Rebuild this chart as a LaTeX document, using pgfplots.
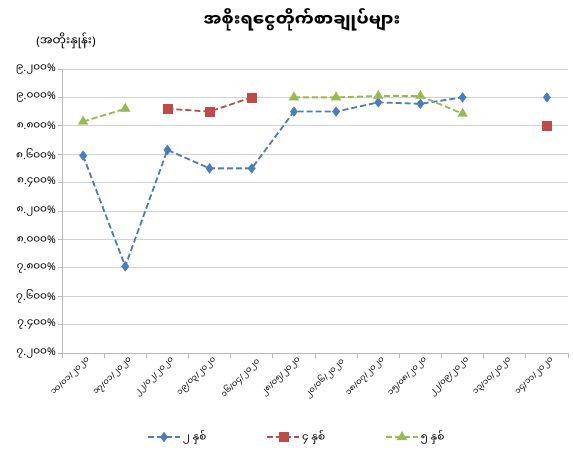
\documentclass[border=0pt]{standalone}
\usepackage{fontspec}
\setmainfont{Noto Sans}
\newfontfamily\my[Script=Myanmar]{Noto Sans Myanmar UI}
\usepackage{pgfplots}
\pgfplotsset{compat=1.18}
\newcommand\mm[1]{{\my #1}}
\definecolor{cblue}{HTML}{4A7EBB}
\definecolor{cred}{HTML}{BE4B48}
\definecolor{cgreen}{HTML}{98B954}
\newcommand\yl[2]{\mm{#1}.\mm{#2}\%}
\newcommand\dt[3]{\mm{#1}/\mm{#2}/\mm{#3}}
\begin{document}
\begin{tikzpicture}
\path (-62pt,-102pt) rectangle (511pt,353pt);
\begin{axis}[
  at={(0pt,0pt)}, anchor=south west,
  scale only axis, width=506pt, height=284pt,
  xmin=0.5, xmax=12.5, ymin=7.2, ymax=9.2,
  axis x line*=bottom, axis y line*=left,
  axis line style={draw=gray!55, line width=0.8pt, -},
  ytick={7.2,7.4,7.6,7.8,8.0,8.2,8.4,8.6,8.8,9.0,9.2},
  yticklabels={\yl{၇}{၂၀၀},\yl{၇}{၄၀၀},\yl{၇}{၆၀၀},\yl{၇}{၈၀၀},\yl{၈}{၀၀၀},\yl{၈}{၂၀၀},\yl{၈}{၄၀၀},\yl{၈}{၆၀၀},\yl{၈}{၈၀၀},\yl{၉}{၀၀၀},\yl{၉}{၂၀၀}},
  ymajorgrids, grid style={draw=gray!35, line width=0.8pt},
  xtick={1,...,12},
  xticklabels={\dt{၁၀}{၀၁}{၂၀၂၀},\dt{၁၇}{၀၁}{၂၀၂၀},\dt{၂၂}{၀၂}{၂၀၂၀},\dt{၁၉}{၀၃}{၂၀၂၀},\dt{၁၆}{၀၄}{၂၀၂၀},\dt{၂၈}{၀၅}{၂၀၂၀},\dt{၂၀}{၀၆}{၂၀၂၀},\dt{၁၈}{၀၇}{၂၀၂၀},\dt{၁၅}{၀၈}{၂၀၂၀},\dt{၂၂}{၀၉}{၂၀၂၀},\dt{၁၃}{၁၀}{၂၀၂၀},\dt{၁၄}{၁၁}{၂၀၂၀}},
  minor xtick={0.5,1.5,...,12.5},
  tick align=outside,
  major tick length=4pt, minor tick length=5pt,
  x tick style={draw=none},
  minor x tick style={draw=gray!55, line width=0.8pt},
  y tick style={draw=gray!55, line width=0.8pt},
  x tick label style={rotate=45, anchor=north east, font=\fontsize{8.5}{9}\selectfont, inner sep=1pt, xshift=4pt},
  y tick label style={font=\fontsize{10.5}{11}\selectfont, inner sep=2pt},
  unbounded coords=jump,
  legend style={at={(axis description cs:0.464,-0.296)}, anchor=center, draw=none, fill=none,
    legend columns=3, font=\fontsize{10.5}{11}\selectfont,
    /tikz/every even column/.append style={column sep=58pt}},
  legend image code/.code={\draw[mark repeat=2,mark phase=2,#1] plot coordinates {(0pt,0pt)(16pt,0pt)(32pt,0pt)};},
]
\addplot[color=cblue, line width=1.8pt, dash pattern=on 6pt off 3pt, mark=diamond*, mark size=4.8pt, mark options={solid, line width=0.4pt}]
 coordinates {(1,8.59)(2,7.81)(3,8.63)(4,8.50)(5,8.50)(6,8.90)(7,8.90)(8,8.965)(9,8.955)(10,9.00)(11,nan)(12,9.00)};
\addlegendentry{\mm{၂ နှစ်}}
\addplot[color=cred, line width=1.8pt, dash pattern=on 6pt off 3pt, mark=square*, mark size=4.4pt, mark options={solid, line width=0.4pt}]
 coordinates {(1,nan)(2,nan)(3,8.92)(4,8.90)(5,9.00)(6,nan)(7,nan)(8,nan)(9,nan)(10,nan)(11,nan)(12,8.80)};
\addlegendentry{\mm{၄ နှစ်}}
\addplot[color=cgreen, line width=1.8pt, dash pattern=on 6pt off 3pt, mark=triangle*, mark size=5.5pt, mark options={solid, line width=0.4pt}]
 coordinates {(1,8.83)(2,8.92)(3,nan)(4,nan)(5,nan)(6,9.00)(7,9.00)(8,9.01)(9,9.01)(10,8.885)};
\addlegendentry{\mm{၅ နှစ်}}
\end{axis}
\node[font=\my\bfseries\fontsize{17}{19}\selectfont] at (240pt,333pt) {အစိုးရငွေတိုက်စာချုပ်များ};
\node[font=\fontsize{12}{13}\selectfont] at (4pt,312pt) {(\mm{အတိုးနှုန်း})};
\end{tikzpicture}
\end{document}
